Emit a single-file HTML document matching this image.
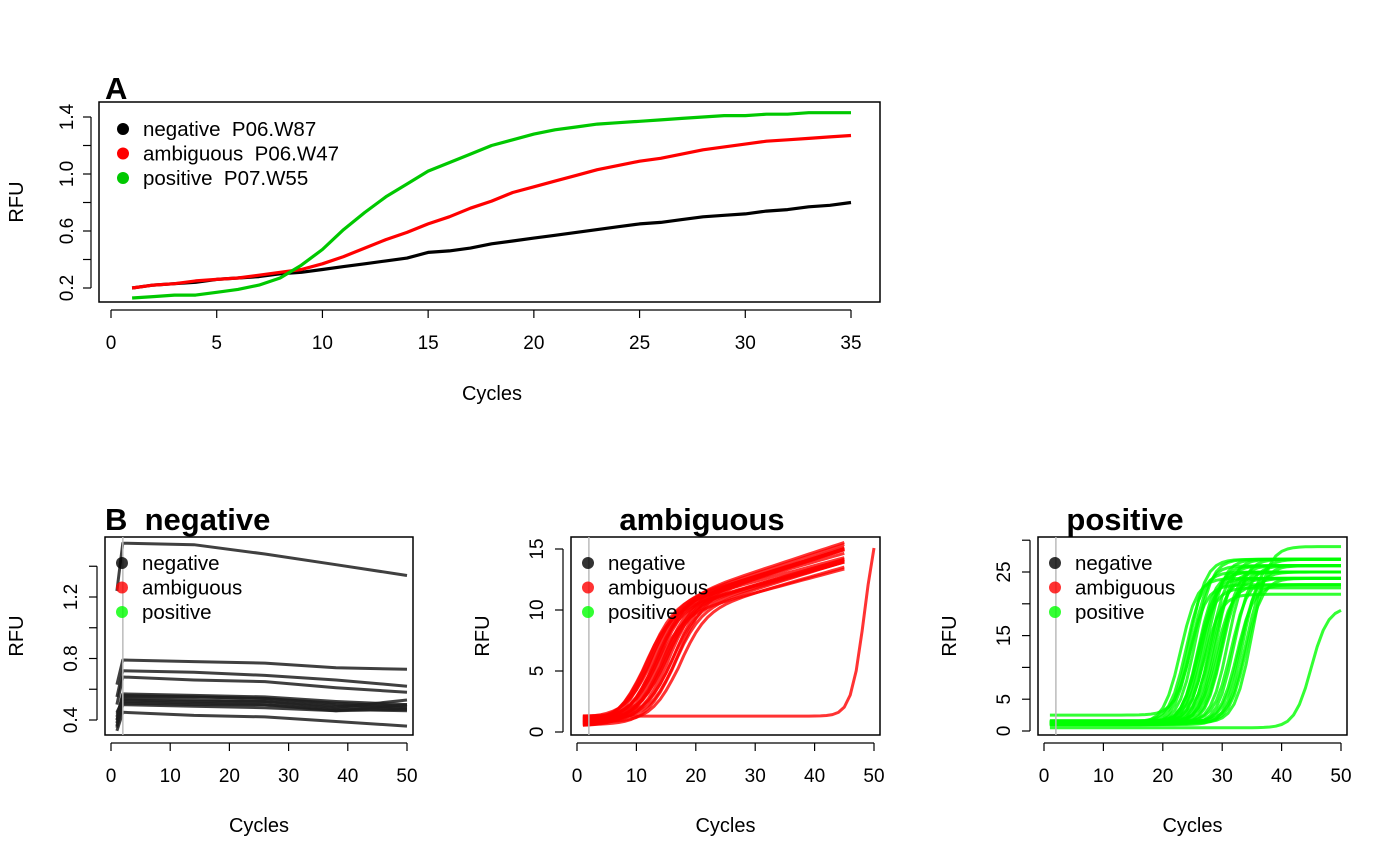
<!DOCTYPE html>
<html><head><meta charset="utf-8"><style>
html,body{margin:0;padding:0;background:#fff;}
svg{display:block;font-family:"Liberation Sans",Arial,sans-serif;}
text{white-space:pre;}
</style></head><body>
<svg id="chart" width="1400" height="865" viewBox="0 0 1400 865" xmlns="http://www.w3.org/2000/svg"></svg>
<script>
// Panel A data
const cyclesA = [1,2,3,4,5,6,7,8,9,10,11,12,13,14,15,16,17,18,19,20,21,22,23,24,25,26,27,28,29,30,31,32,33,34,35];
const negA = [0.20,0.22,0.23,0.24,0.26,0.27,0.28,0.30,0.31,0.33,0.35,0.37,0.39,0.41,0.45,0.46,0.48,0.51,0.53,0.55,0.57,0.59,0.61,0.63,0.65,0.66,0.68,0.70,0.71,0.72,0.74,0.75,0.77,0.78,0.80];
const ambA = [0.20,0.22,0.23,0.25,0.26,0.27,0.29,0.31,0.33,0.37,0.42,0.48,0.54,0.59,0.65,0.70,0.76,0.81,0.87,0.91,0.95,0.99,1.03,1.06,1.09,1.11,1.14,1.17,1.19,1.21,1.23,1.24,1.25,1.26,1.27];
const posA = [0.13,0.14,0.15,0.15,0.17,0.19,0.22,0.27,0.36,0.47,0.61,0.73,0.84,0.93,1.02,1.08,1.14,1.20,1.24,1.28,1.31,1.33,1.35,1.36,1.37,1.38,1.39,1.40,1.41,1.41,1.42,1.42,1.43,1.43,1.43];
const xTicksA = [0,5,10,15,20,25,30,35];
const yTicksA = [0.2,0.6,1.0,1.4];
const yMinorA = [0.2,0.4,0.6,0.8,1.0,1.2,1.4];
// Panel B negative: cycle-1, cycle-2, cycle-14, cycle-26, cycle-38, cycle-50 values per curve
const negFirst = [1.24,0.63,0.55,0.50,0.42,0.40,0.38,0.36,0.45,0.44,0.40,0.35,0.33];
const negStart = [1.55,0.79,0.72,0.68,0.57,0.56,0.55,0.54,0.53,0.52,0.51,0.50,0.45];
const negQ1 = [1.54,0.78,0.71,0.66,0.56,0.55,0.55,0.53,0.52,0.51,0.50,0.49,0.43];
const negMid = [1.48,0.77,0.69,0.65,0.55,0.54,0.54,0.52,0.52,0.50,0.50,0.48,0.42];
const negQ3 = [1.41,0.74,0.66,0.61,0.52,0.51,0.50,0.49,0.48,0.47,0.46,0.46,0.39];
const negEnd = [1.34,0.73,0.62,0.58,0.50,0.49,0.48,0.47,0.53,0.46,0.50,0.47,0.36];
// Panel B ambiguous: ct, rise height, baseline, late slope per curve
const ambCt = [11,11.5,12,12,12.5,13,13,13.5,14,14,14.5,15,15,15.5,16,16,16.5,17,13.5,12.5];
const ambH = [8.8,9.2,9.0,9.4,8.9,9.3,8.7,9.4,9.0,9.5,8.8,9.2,9.5,8.9,9.3,9.0,9.4,8.8,9.1,9.2];
const ambBase = [0.6,0.8,1.0,0.7,1.2,0.9,0.5,1.1,0.8,0.6,1.0,1.3,0.7,0.9,1.2,0.6,1.0,0.8,1.1,0.5];
const ambSlope = [0.14,0.15,0.13,0.16,0.14,0.15,0.13,0.16,0.14,0.16,0.14,0.15,0.16,0.14,0.16,0.15,0.16,0.14,0.15,0.13];
const ambLateCt = 48.4, ambLateH = 17, ambLateBase = 1.3;
// Panel B positive: ct, plateau, baseline per curve
const posCt = [23,24,24.5,25,25.5,26,26,26.5,27,27,27.5,28,28,28.5,29,29,29.5,30,30,31,31.5,32,32.5,33,33.5,34,34,35,26,24.5,45];
const posPlat = [24,25,23,26,27,24,22.5,25,26,21.5,27,24,26,25,23,27,24,26,25,27,24,26,23,25,27,24,26,29,25,27,19.5];
const posBase = [1.2,1.5,1.0,2.5,1.3,1.1,1.4,1.0,1.6,1.2,1.3,1.5,1.0,1.2,1.4,1.1,1.6,1.3,1.0,1.2,1.5,1.1,1.3,1.4,1.0,1.2,1.5,1.3,1.1,1.4,0.5];
const yTicksAmb = [0,5,10,15];
const yTicksPos = [0,5,10,15,20,25,30];
const yLabPos = [0,5,15,25];
const yTicksNeg = [0.4,0.6,0.8,1.0,1.2,1.4];
const yLabNeg = [0.4,0.8,1.2];
const xTicksB = [0,10,20,30,40,50];

const svg = document.getElementById('chart');
const NS = 'http://www.w3.org/2000/svg';
function el(tag, attrs, parent){
  const e = document.createElementNS(NS, tag);
  for (const k in attrs) e.setAttribute(k, attrs[k]);
  (parent||svg).appendChild(e);
  return e;
}
function txt(s, x, y, size, opts){
  opts = opts||{};
  const t = el('text', {x:x, y:y, 'font-size':size, 'text-anchor':opts.anchor||'middle', fill:'#000', 'font-weight':opts.bold?'bold':'normal'}, opts.parent);
  if (opts.rot) t.setAttribute('transform', 'rotate(-90 '+x+' '+y+')');
  t.textContent = s;
  return t;
}
function pathOf(xs, ys, sx, sy){
  return xs.map((x,i)=>(i?'L':'M')+sx(x).toFixed(1)+','+sy(ys[i]).toFixed(1)).join(' ');
}
function frame(g, x0,y0,x1,y1){
  const r = el('rect',{x:x0,y:y0,width:x1-x0,height:y1-y0,fill:'none',stroke:'#000','stroke-width':1.5},g);
  
  
}
function xAxis(g, ticks, sx, yb, labY){
  const ax = el('g',{},g);
  
  
  el('line',{x1:sx(ticks[0]),x2:sx(ticks[ticks.length-1]),y1:yb,y2:yb,stroke:'#000','stroke-width':1.2},ax);
  ticks.forEach(t=>{
    el('line',{x1:sx(t),x2:sx(t),y1:yb,y2:yb+8,stroke:'#000','stroke-width':1.2},ax);
    const l = txt(String(t), sx(t), labY, 19, {parent:ax});
    
    
  });
}
function yAxis(g, ticks, labels, sy, xl, labX, fmt){
  const ax = el('g',{},g);
  
  
  el('line',{x1:xl,x2:xl,y1:sy(ticks[0]),y2:sy(ticks[ticks.length-1]),stroke:'#000','stroke-width':1.2},ax);
  ticks.forEach(t=>{
    el('line',{x1:xl-8,x2:xl,y1:sy(t),y2:sy(t),stroke:'#000','stroke-width':1.2},ax);
  });
  labels.forEach(t=>{
    const l = txt(fmt(t), labX, sy(t), 19, {parent:ax, rot:true});
    
    
  });
}
function legend(g, x, y, entries, colors){
  const lg = el('g',{},g);
  
  
  entries.forEach((s,i)=>{
    const c = el('circle',{cx:x,cy:y+i*24.5,r:6,fill:colors[i]},lg);
    
    
    const t = txt(s, x+20, y+i*24.5+7, 20.5, {anchor:'start', parent:lg});
    
    
  });
}
const range = (a,b)=>{const r=[];for(let i=a;i<=b;i++)r.push(i);return r;};

// ---------- Panel A ----------
(function(){
  const g = el('g',{});
  
  
  const sx = x=>111 + x*(740/35);
  const sy = y=>288 - (y-0.2)*142.5;
  frame(g, 99,102,880,302);
  xAxis(g, xTicksA, sx, 310, 349);
  yAxis(g, yMinorA, yTicksA, sy, 91, 73, v=>v.toFixed(1));
  const ser = [[negA,'#000','series-negative'],[ambA,'#ff0000','series-ambiguous'],[posA,'#00c800','series-positive']];
  ser.forEach(s=>{
    const p = el('path',{d:pathOf(cyclesA,s[0],sx,sy),fill:'none',stroke:s[1],'stroke-width':3.2,'stroke-linejoin':'round'},g);
    
    
  });
  legend(g, 123, 129, ['negative  P06.W87','ambiguous  P06.W47','positive  P07.W55'], ['#000','#ff0000','#00c800']);
  const t = txt('A', 105, 99, 31, {anchor:'start', bold:true, parent:g});
  
  
  const xl = txt('Cycles', 492, 400, 20, {parent:g});
  
  
  const yl = txt('RFU', 23, 202, 20, {parent:g, rot:true});
  
  
})();

// ---------- Panel B helpers ----------
function panelB(name, x0, x1, yb, sy, titleText, titleX, titleAnchor, drawSeries, yt, yl, fmt){
  const g = el('g',{});
  
  
  const sx = x=> (x0+6) + x*((x1-x0-12)/50);
  frame(g, x0,537,x1,735);
  const clip = el('clipPath',{id:'clip-'+name},g);
  el('rect',{x:x0,y:537,width:x1-x0,height:198},clip);
  const sg = el('g',{'clip-path':'url(#clip-'+name+')'},g);
  
  
  drawSeries(sg, sx);
  const vl = el('line',{x1:sx(2),x2:sx(2),y1:537,y2:735,stroke:'#bbb','stroke-width':1.5},g);
  
  
  xAxis(g, xTicksB, sx, 743, 782);
  yAxis(g, yt, yl, sy, x0-8, x0-28, fmt);
  legend(g, x0+17, 563, ['negative','ambiguous','positive'], ['rgba(0,0,0,0.8)','rgba(255,0,0,0.8)','rgba(0,255,0,0.8)']);
  const t = txt(titleText, titleX, 530, 31, {anchor:titleAnchor, bold:true, parent:g});
  
  
  const xt = txt('Cycles', (x0+x1)/2, 832, 20, {parent:g});
  
  
  const ytt = txt('RFU', x0-82, 636, 20, {parent:g, rot:true});
  
  
}
function curve(g, xs, ys, sx, sy, color, nm){
  const p = el('path',{d:pathOf(xs,ys,sx,sy),fill:'none',stroke:color,'stroke-width':3,'stroke-linejoin':'round'},g);
  
  
}

// negative
(function(){
  const sy = y=>720 - (y-0.4)*153.75;
  panelB('panel-b-negative', 105, 413, 735, sy, 'B  negative', 105, 'start', (g,sx)=>{
    negStart.forEach((s,i)=>{
      const xs=[1,2,14,26,38,50], ys=[negFirst[i], s, negQ1[i], negMid[i], negQ3[i], negEnd[i]];
      curve(g, xs, ys, sx, sy, 'rgba(30,30,30,0.85)', 'negative-curve');
    });
  }, yTicksNeg, yLabNeg, v=>v.toFixed(1));
})();
// ambiguous
(function(){
  const sy = y=>732 - y*12.2;
  panelB('panel-b-ambiguous', 571, 880, 735, sy, 'ambiguous', 702, 'middle', (g,sx)=>{
    const xs = range(1,45);
    ambCt.forEach((ct,i)=>{
      const ys = xs.map(x=>ambBase[i] + ambH[i]/(1+Math.exp(-(x-ct)/2.3)) + ambSlope[i]*Math.max(0,x-ct));
      curve(g, xs, ys, sx, sy, 'rgba(255,0,0,0.8)', 'ambiguous-curve');
    });
    const xl = range(1,50);
    const yl = xl.map(x=>ambLateBase + ambLateH/(1+Math.exp(-(x-ambLateCt)/1.1)));
    curve(g, xl, yl, sx, sy, 'rgba(255,0,0,0.8)', 'ambiguous-late-curve');
  }, yTicksAmb, yTicksAmb, v=>String(v));
})();
// positive
(function(){
  const sy = y=>731 - y*6.36;
  panelB('panel-b-positive', 1038, 1347, 735, sy, 'positive', 1125, 'middle', (g,sx)=>{
    const xs = range(1,50);
    posCt.forEach((ct,i)=>{
      const ys = xs.map(x=>posBase[i] + (posPlat[i]-posBase[i])/(1+Math.exp(-(x-ct)/1.4)));
      curve(g, xs, ys, sx, sy, 'rgba(0,255,0,0.8)', 'positive-curve');
    });
  }, yTicksPos, yLabPos, v=>String(v));
})();
</script>
</body></html>
